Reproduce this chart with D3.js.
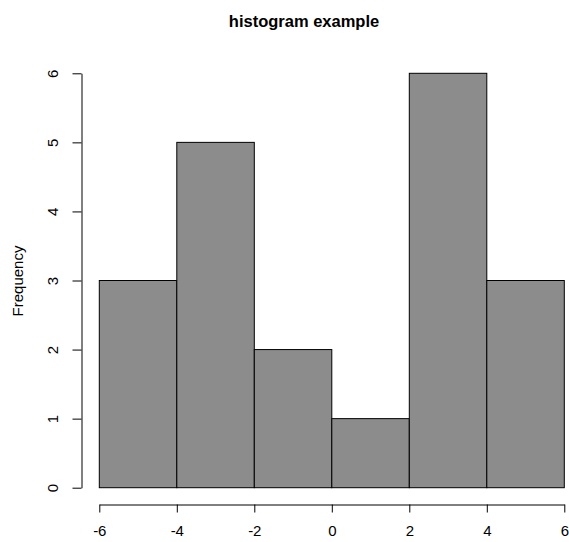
<!DOCTYPE html>
<html>
<head>
<meta charset="utf-8">
<script src="https://cdn.jsdelivr.net/npm/d3@7"></script>
<style>
  body { margin: 0; background: #fff; }
  text { font-family: "Liberation Sans", Arial, sans-serif; }
</style>
</head>
<body>
<div class="hist"></div>
<script>
// histogram bins and counts
const binStarts = [-6, -4, -2, 0, 2, 4];
const binWidth = 2;
const counts = [3, 5, 2, 1, 6, 3];
const xTicks = [-6, -4, -2, 0, 2, 4, 6];
const yTicks = [0, 1, 2, 3, 4, 5, 6];

const width = 569;
const height = 542;

const svg = d3.select('.hist')
    .append('svg')
    .attr('width', width)
    .attr('height', height);

const x = d3.scaleLinear().domain([-6, 6]).range([99.3, 564.3]);
const y = d3.scaleLinear().domain([0, 6]).range([487.7, 73.3]);

// bars
svg.selectAll("rect")
    .data(counts)
    .enter()
    .append("rect")
    .attr("x", function (d, i){
        return x(binStarts[i]);
    })
    .attr("y", function (d){
        return y(d);
    })
    .attr("width", function (d, i){
        return x(binStarts[i] + binWidth) - x(binStarts[i]);
    })
    .attr("height", function (d){
        return y(0) - y(d);
    })
    .attr("fill", "#8c8c8c")
    .attr("stroke", "#000")
    .attr("stroke-width", 1);

// plain hyphen minus like R
const fmt = d => String(d);

// x axis
const xAxis = svg.append("g")
    .attr("transform", "translate(0,504.5)")
    .call(d3.axisBottom(x).tickValues(xTicks).tickFormat(fmt).tickSize(8).tickSizeOuter(0).tickPadding(13));

// y axis, labels rotated like R
const yAxis = svg.append("g")
    .attr("transform", "translate(81.5,0)")
    .call(d3.axisLeft(y).tickValues(yTicks).tickFormat(fmt).tickSize(9).tickSizeOuter(0));

[xAxis, yAxis].forEach(function (g){
    g.select(".domain").attr("stroke", "#000");
    g.selectAll(".tick line").attr("stroke", "#000");
    g.selectAll("text")
        .attr("font-size", 15)
        .attr("fill", "#000")
        .attr("font-family", "Liberation Sans, Arial, sans-serif");
});

yAxis.selectAll(".tick text")
    .attr("x", null)
    .attr("dy", null)
    .attr("text-anchor", "middle")
    .attr("transform", "translate(-29,0) rotate(-90)")
    .attr("dominant-baseline", "central");

// title
svg.append("text")
    .text("histogram example")
    .attr("x", 304)
    .attr("y", 27)
    .attr("text-anchor", "middle")
    .attr("font-size", 16.5)
    .attr("font-weight", "bold");

// y label
svg.append("text")
    .text("Frequency")
    .attr("transform", "translate(17,281) rotate(-90)")
    .attr("text-anchor", "middle")
    .attr("dominant-baseline", "central")
    .attr("font-size", 15);
</script>
</body>
</html>
